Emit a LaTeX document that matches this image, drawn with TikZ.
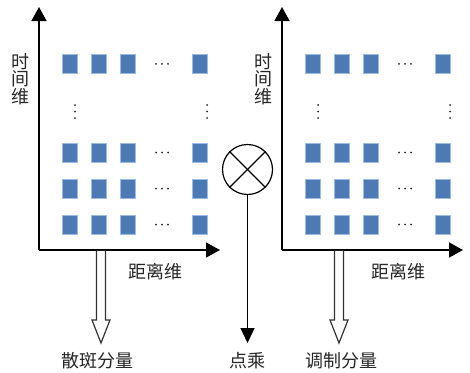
\documentclass[tikz,border=0pt]{standalone}
\usepackage{fontspec}
\newfontfamily\cjk{Noto Sans CJK SC}
\usetikzlibrary{arrows.meta}
\definecolor{cellfill}{HTML}{4E7AB4}
\definecolor{celledge}{HTML}{9CBCE2}
\tikzset{
  cell/.style={rectangle, minimum width=15pt, minimum height=19pt, inner sep=0pt,
    fill=cellfill, draw=celledge, line width=1pt},
  axis/.style={line width=1.5pt, -{Triangle[width=15pt,length=14pt]}},
  lbl/.style={font=\cjk\fontsize{18pt}{17.5pt}\selectfont, inner sep=0pt, text=black!85},
  dotmark/.style={circle, fill=black!85, inner sep=0pt, minimum size=2.4pt},
  hollow/.style={draw=black!80, line width=1.2pt, fill=white},
}
\begin{document}
\begin{tikzpicture}[x=1pt, y=-1pt]
\useasboundingbox (0,0) rectangle (470,372);
\fill[white] (0,0) rectangle (470,372);
\foreach \p/\dx/\ax/\nm in {L/0/101/散斑分量, R/243/339/调制分量}{
  \begin{scope}[xshift=\dx pt]
    \coordinate (\p o) at (39,250);
    \coordinate (\p y) at (39,7);
    \coordinate (\p x) at (220,250);
    \draw[axis] (\p o) -- (\p y);
    \draw[axis] (\p o) -- (\p x);
    \node[lbl, align=center] (\p tl) at (20,79) {时\\间\\维};
    \node[lbl] (\p dl) at (155,272) {距离维};
    % cells
    \foreach \r/\ry in {1/63.8, 2/152.5, 3/188.5, 4/224.5}{
      \foreach \c/\cx in {1/69.5, 2/98.5, 3/127.5, 5/199.5}{
        \node[cell] (\p c\r\c) at (\cx,\ry) {};
      }
      \foreach \k/\kx in {1/156, 2/162, 3/168}{
        \node[dotmark, minimum size=2pt] (\p h\r\k) at (\kx,\ry) {};
      }
    }
    \foreach \k/\ky in {1/105, 2/111.5, 3/118}{
      \node[dotmark, minimum size=2pt] (\p va\k) at (75,\ky) {};
      \node[dotmark, minimum size=2pt] (\p vb\k) at (207,\ky) {};
    }
  \end{scope}
}
% hollow arrows
\foreach \p/\cx in {L/101, R/339}{
  \draw[hollow] (\cx-4.5,250.8) -- (\cx-4.5,320) -- (\cx-9,320) -- (\cx,343)
     -- (\cx+9,320) -- (\cx+4.5,320) -- (\cx+4.5,250.8);
  \coordinate (\p a) at (\cx,343);
}
\node[lbl] (Lnm) at (97,361) {散斑分量};
\node[lbl] (Rnm) at (341,361) {调制分量};
% multiplication
\node[circle, draw, line width=1.2pt, minimum size=50pt, inner sep=0pt] (mul) at (247.5,169.5) {};
\draw[line width=1.2pt] (mul.north west) -- (mul.south east);
\draw[line width=1.2pt] (mul.north east) -- (mul.south west);
\coordinate (mulend) at (247.5,343);
\draw[line width=1.2pt, -{Triangle[width=14pt,length=15pt]}] (mul.south) -- (mulend);
\node[lbl] (dc) at (247,361) {点乘};
\end{tikzpicture}
\end{document}
